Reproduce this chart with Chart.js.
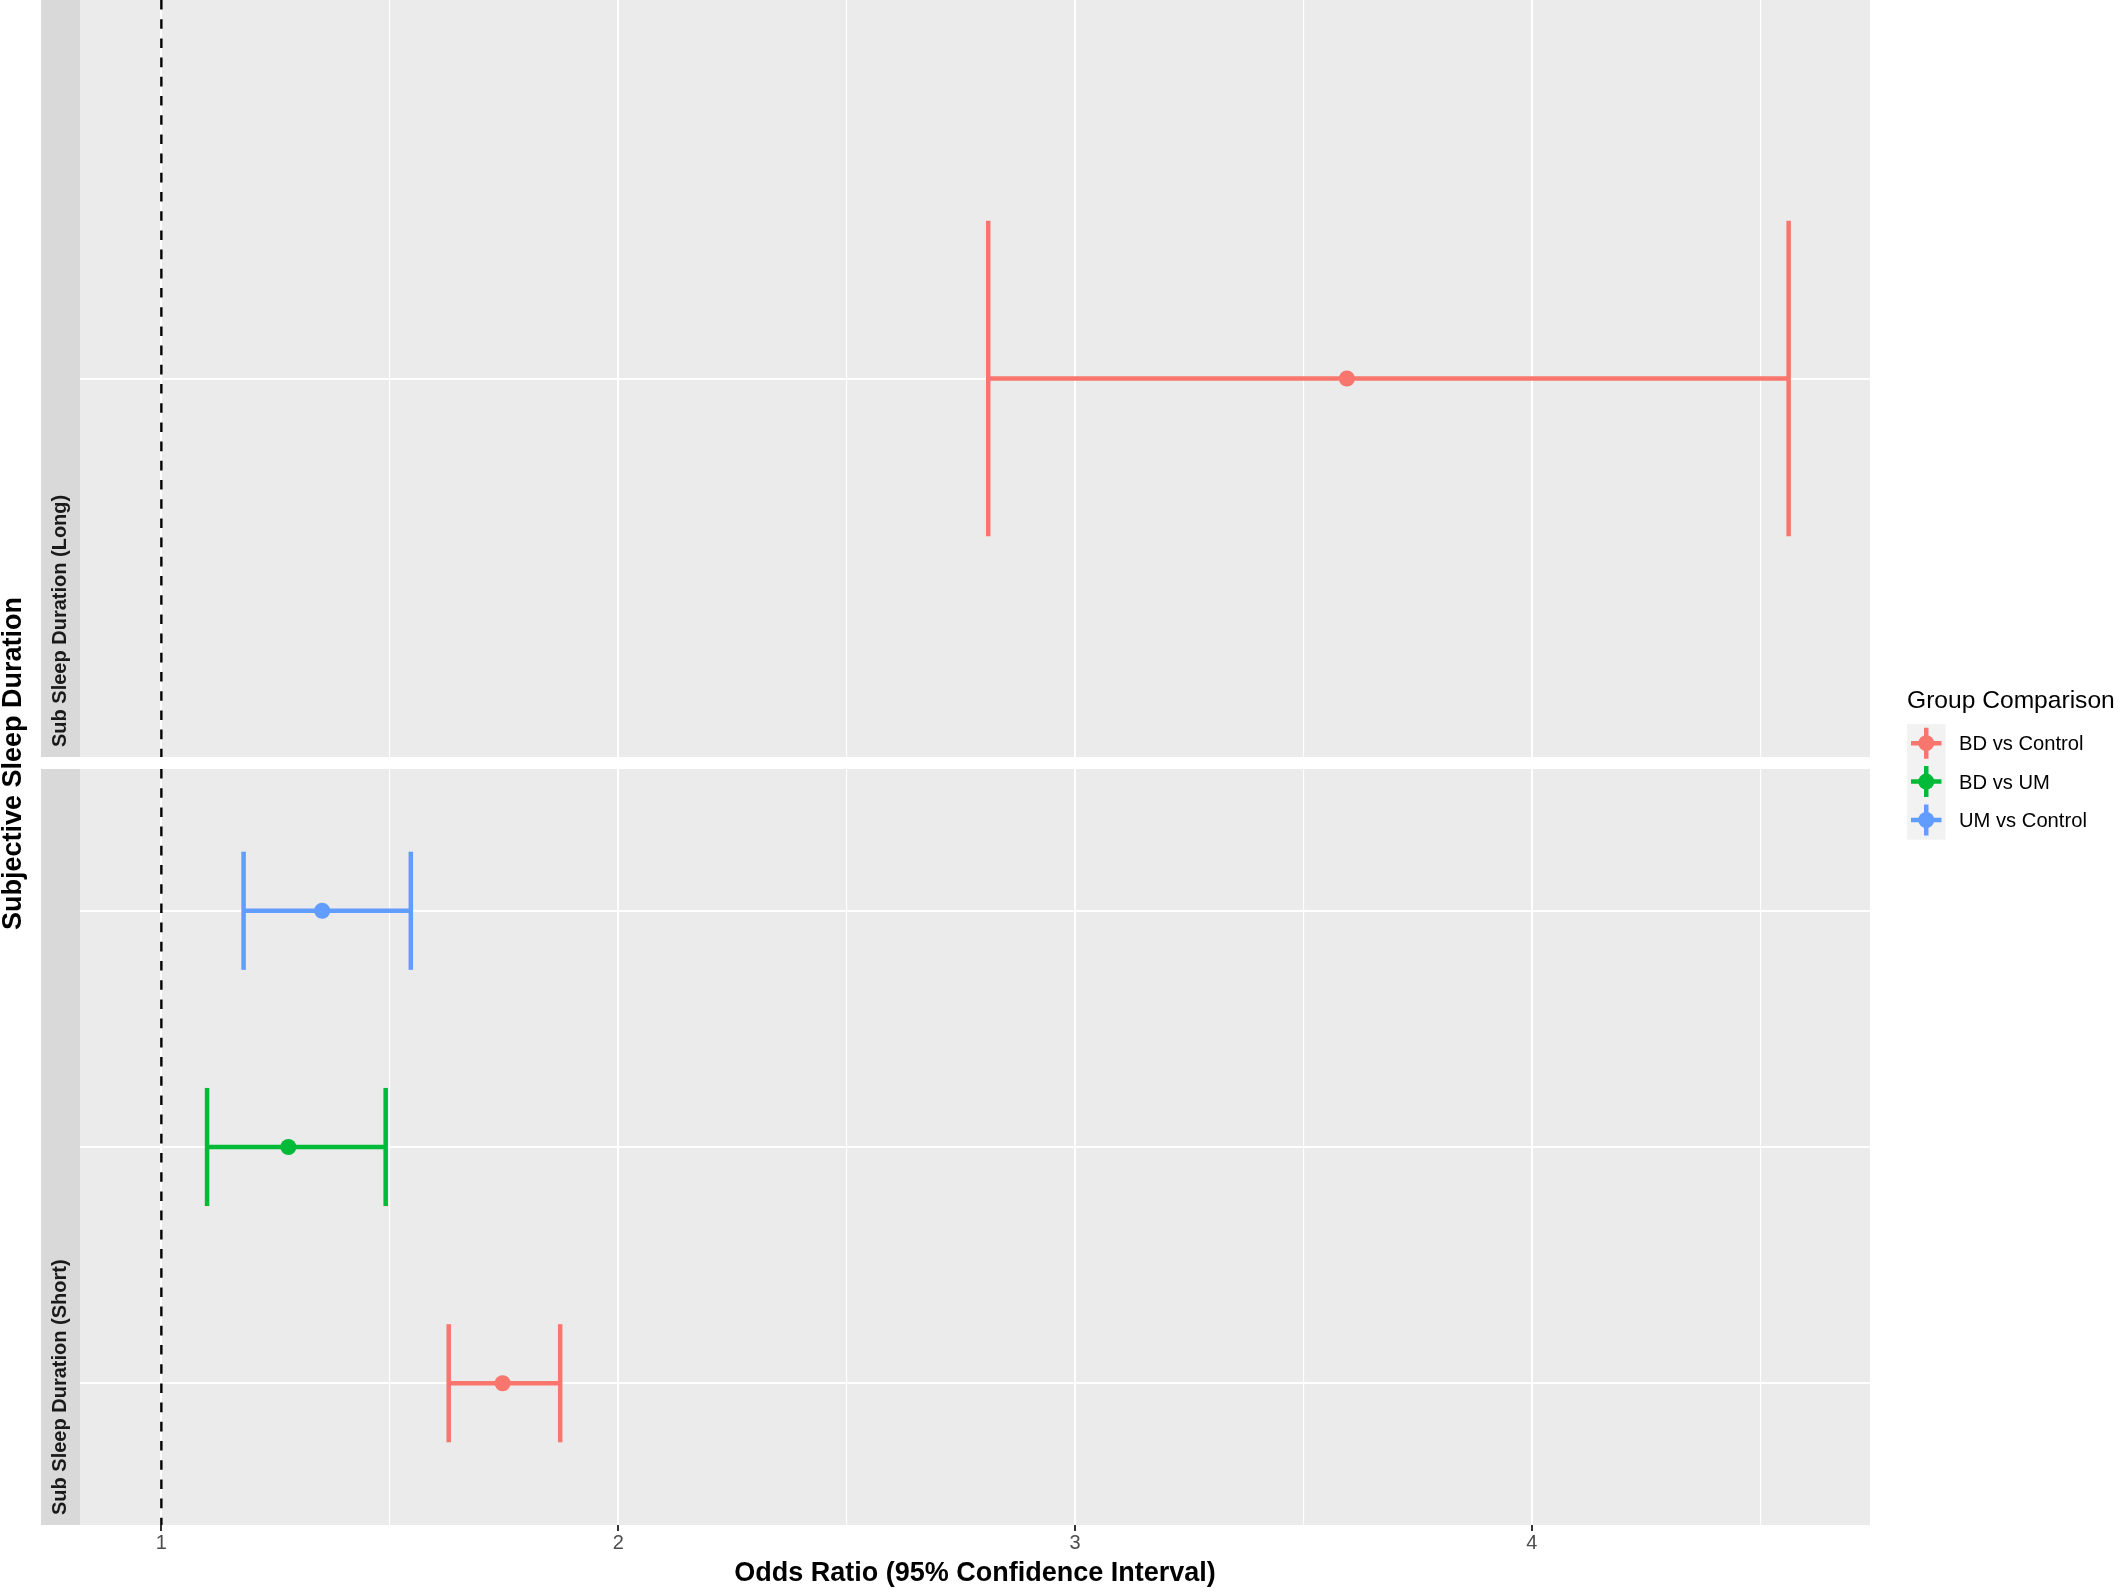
<!DOCTYPE html>
<html><head><meta charset="utf-8">
<script src="https://cdn.jsdelivr.net/npm/chart.js@4.4.1/dist/chart.umd.min.js"></script>
<style>
html,body{margin:0;padding:0;background:#ffffff;}
#wrap{position:relative;width:2128px;height:1592px;overflow:hidden;background:#ffffff;}
canvas{position:absolute;left:0;}
#cTop{top:0;}
#cBot{top:769px;}
</style></head><body>
<div id="wrap">
<canvas id="cTop" width="2128" height="1592"></canvas>
<canvas id="cBot" width="2128" height="823"></canvas>
</div>
<script>
// ---------------- data ----------------
const panelLabels = ['Sub Sleep Duration (Long)', 'Sub Sleep Duration (Short)'];
const groupNames = ['BD vs Control', 'BD vs UM', 'UM vs Control'];
const groupColors = ['#F8766D', '#00BA38', '#619CFF'];

const longGroups = ['BD vs Control'];
const longOR = [3.595];
const longLower = [2.810];
const longUpper = [4.562];

const shortGroups = ['BD vs Control', 'BD vs UM', 'UM vs Control'];
const shortOR = [1.747, 1.278, 1.352];
const shortLower = [1.629, 1.100, 1.180];
const shortUpper = [1.873, 1.491, 1.546];

const xTickValues = [1, 2, 3, 4];
const refLineX = 1;
const xTitle = 'Odds Ratio (95% Confidence Interval)';
const yTitle = 'Subjective Sleep Duration';
const legendTitle = 'Group Comparison';

// ---------------- styling / layout ----------------
const FONT = '"Liberation Sans", Arial, Helvetica, sans-serif';
const discreteExpand = 0.6;
const whiskerHalf = 0.25;

const allLow = Math.min(refLineX, ...longLower, ...shortLower);
const allHigh = Math.max(refLineX, ...longUpper, ...shortUpper);
const xPad = 0.05 * (allHigh - allLow);
const xMin = allLow - xPad, xMax = allHigh + xPad;

const isMajor = v => xTickValues.some(t => Math.abs(t - v) < 1e-9);

function buildDatasets(groups, or, lower, upper) {
  const n = groups.length;
  const ds = [];
  ds.push({
    data: [{x: refLineX, y: n - 1 + discreteExpand}, {x: refLineX, y: -discreteExpand}],
    showLine: true, borderColor: '#000000', borderWidth: 2.4, borderDash: [9.6, 9.6],
    pointRadius: 0, fill: false, order: 3
  });
  groups.forEach((g, i) => {
    const col = groupColors[groupNames.indexOf(g)];
    const common = {showLine: true, borderColor: col, borderWidth: 4.5, pointRadius: 0,
      fill: false, borderCapStyle: 'butt', order: 2};
    ds.push(Object.assign({data: [{x: lower[i], y: i}, {x: upper[i], y: i}]}, common));
    ds.push(Object.assign({data: [{x: lower[i], y: i - whiskerHalf}, {x: lower[i], y: i + whiskerHalf}]}, common));
    ds.push(Object.assign({data: [{x: upper[i], y: i - whiskerHalf}, {x: upper[i], y: i + whiskerHalf}]}, common));
  });
  groups.forEach((g, i) => {
    const col = groupColors[groupNames.indexOf(g)];
    ds.push({data: [{x: or[i], y: i}], showLine: false, pointRadius: 8,
      pointBackgroundColor: col, pointBorderWidth: 0, pointBorderColor: col, order: 1});
  });
  return ds;
}

function xScale(bottom) {
  return {
    type: 'linear', min: xMin, max: xMax,
    border: {display: false},
    ticks: {
      display: bottom, stepSize: 0.5, autoSkip: false, maxRotation: 0, minRotation: 0,
      includeBounds: false, padding: 2, color: '#4D4D4D',
      font: {family: FONT, size: 20, lineHeight: 1},
      callback: v => isMajor(v) ? String(v) : ''
    },
    grid: {
      color: '#FFFFFF',
      lineWidth: c => (c.tick && isMajor(c.tick.value)) ? 2 : 1.1,
      drawTicks: bottom, tickLength: 6, tickWidth: 2,
      tickColor: c => (c.tick && isMajor(c.tick.value)) ? '#333333' : 'rgba(0,0,0,0)'
    },
    title: {
      display: bottom, text: xTitle, color: '#000000',
      font: {family: FONT, size: 27, weight: 'bold', lineHeight: 1.2},
      padding: {top: 2.3, bottom: 2.3}
    }
  };
}

function yScale(n) {
  return {
    type: 'linear', min: -discreteExpand, max: n - 1 + discreteExpand,
    border: {display: false},
    ticks: {display: false, stepSize: 1, includeBounds: false},
    grid: {color: '#FFFFFF', lineWidth: 2, drawTicks: false}
  };
}

const facetPlugin = {
  id: 'facet',
  beforeDraw(chart, args, opts) {
    const ctx = chart.ctx, a = chart.chartArea;
    ctx.save();
    ctx.fillStyle = '#EBEBEB';
    ctx.fillRect(a.left, a.top, a.right - a.left, a.bottom - a.top);
    // strip
    const sw = 39;
    ctx.fillStyle = '#D9D9D9';
    ctx.fillRect(a.left - sw, a.top, sw, a.bottom - a.top);
    ctx.translate(a.left - sw / 2, a.bottom - 10);
    ctx.rotate(-Math.PI / 2);
    ctx.fillStyle = '#1A1A1A';
    ctx.font = 'bold 20px ' + FONT;
    ctx.textAlign = 'left';
    ctx.textBaseline = 'middle';
    ctx.fillText(opts.strip, 0, 0);
    ctx.restore();
  },
  afterDraw(chart, args, opts) {
    if (!opts.decor) return;
    const ctx = chart.ctx;
    ctx.save();
    // y title spanning both panels
    ctx.translate(14, 763.5);
    ctx.rotate(-Math.PI / 2);
    ctx.fillStyle = '#000000';
    ctx.font = 'bold 27px ' + FONT;
    ctx.textAlign = 'center';
    ctx.textBaseline = 'middle';
    ctx.fillText(yTitle, 0, 0);
    ctx.restore();
    // legend
    ctx.save();
    const lx = 1907, top = 724, kw = 38.5, kh = 38.4;
    ctx.fillStyle = '#000000';
    ctx.font = '24.6px ' + FONT;
    ctx.textAlign = 'left';
    ctx.textBaseline = 'alphabetic';
    ctx.fillText(legendTitle, lx, 708);
    groupNames.forEach((g, i) => {
      const cy = top + kh * (i + 0.5);
      const cx = lx + kw / 2;
      ctx.fillStyle = '#F2F2F2';
      ctx.fillRect(lx, top + kh * i, kw, kh + 0.5);
      ctx.strokeStyle = groupColors[i];
      ctx.lineWidth = 4.5;
      ctx.lineCap = 'butt';
      ctx.beginPath();
      ctx.moveTo(lx + 4, cy); ctx.lineTo(lx + kw - 4, cy);
      ctx.moveTo(cx, cy - 15.5); ctx.lineTo(cx, cy + 15.5);
      ctx.stroke();
      ctx.fillStyle = groupColors[i];
      ctx.beginPath(); ctx.arc(cx, cy, 8, 0, Math.PI * 2); ctx.fill();
      ctx.fillStyle = '#000000';
      ctx.font = '20.2px ' + FONT;
      ctx.fillText(g, 1959, cy + 7);
    });
    ctx.restore();
  }
};

function makeChart(id, groups, or, lower, upper, strip, bottom, padding, decor) {
  return new Chart(document.getElementById(id), {
    type: 'scatter',
    data: {datasets: buildDatasets(groups, or, lower, upper)},
    options: {
      responsive: false, animation: false, events: [],
      layout: {padding: padding, autoPadding: false},
      scales: {x: xScale(bottom), y: yScale(groups.length)},
      plugins: {
        legend: {display: false}, tooltip: {enabled: false},
        facet: {strip: strip, decor: decor}
      }
    },
    plugins: [facetPlugin]
  });
}

makeChart('cTop', longGroups, longOR, longLower, longUpper, panelLabels[0], false,
  {left: 80, right: 258, top: 0, bottom: 835}, true);
makeChart('cBot', shortGroups, shortOR, shortLower, shortUpper, panelLabels[1], true,
  {left: 80, right: 258, top: 0, bottom: 0}, false);
</script>
</body></html>
